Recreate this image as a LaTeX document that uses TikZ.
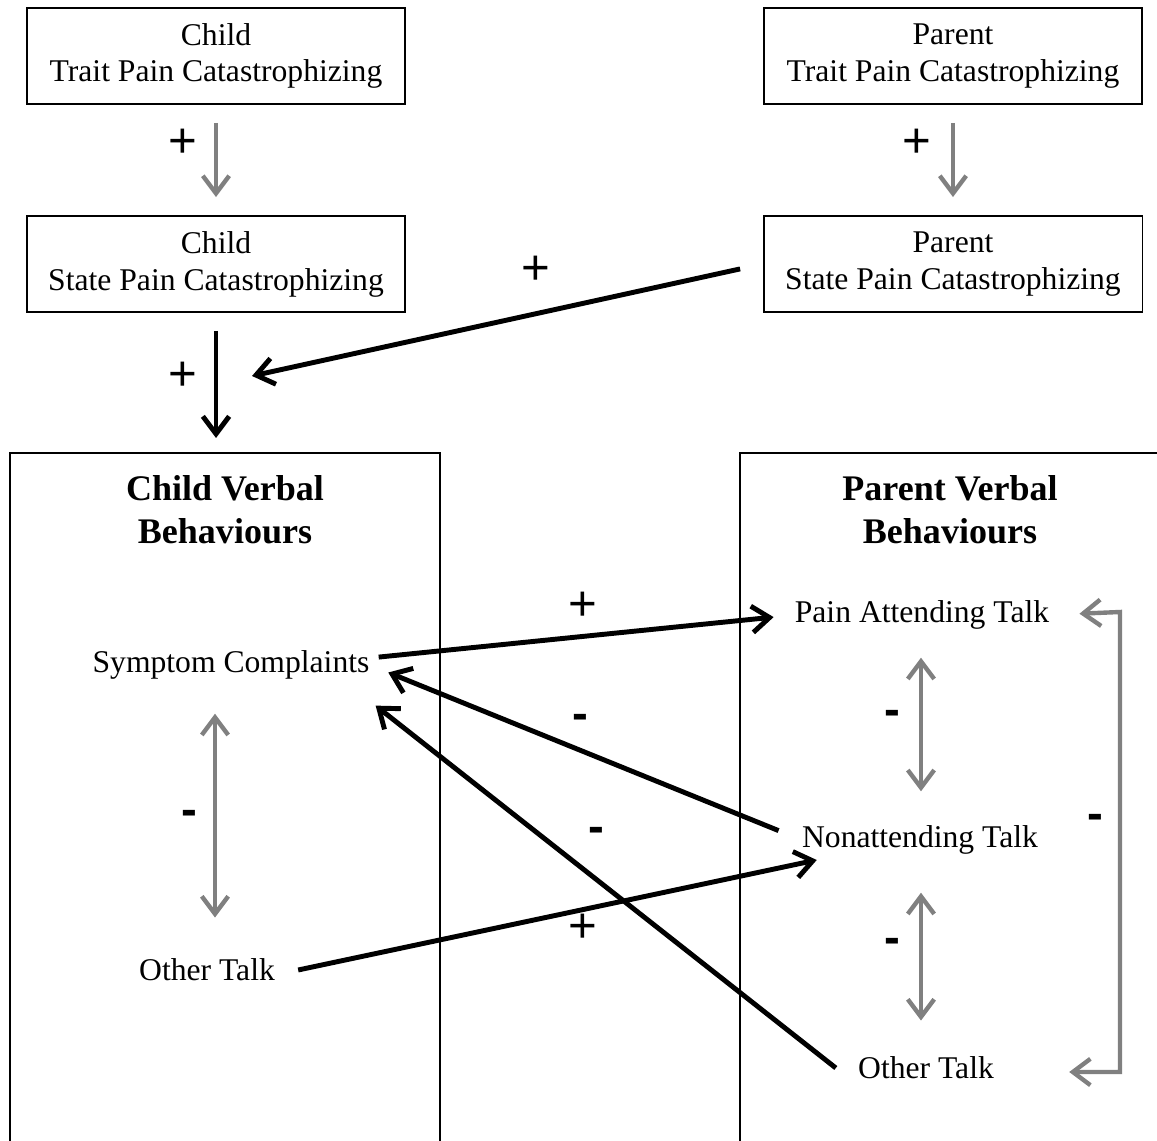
\documentclass[tikz,border=0pt]{standalone}
\usepackage{fontspec}
\setmainfont{Liberation Serif}
\newfontfamily\signfont{Liberation Sans}
\usetikzlibrary{arrows.meta}
\definecolor{arrowgray}{RGB}{128,128,128}

\begin{document}
\begin{tikzpicture}[x=0.02cm,y=-0.02cm,>={Straight Barb[length=10pt,width=15pt]}]
	\useasboundingbox (0,0) rectangle (1157,1141);
	\begin{scope}[
			every node/.style={font=\fontsize{18}{21}\selectfont, align=center},
			catbox/.style={draw, line width=1.1pt, minimum width=7.56cm, minimum height=1.92cm},
			talk/.style={inner sep=0pt},
			headline/.style={font=\fontsize{20.5}{24.5}\selectfont\bfseries},
			plus/.style={font=\signfont\fontsize{28}{28}\selectfont, inner sep=0pt},
			minus/.style={font=\signfont\fontsize{27}{27}\selectfont\bfseries, inner sep=0pt},
			graylink/.style={draw=arrowgray, line width=2.5pt},
			blacklink/.style={draw=black, line width=2.8pt, ->}
		]
		% Catastrophizing boxes
		\node[catbox] (ctrait) at (216,56) {Child\\Trait Pain Catastrophizing};
		\node[catbox] (ptrait) at (953,56) {Parent\\Trait Pain Catastrophizing};
		\node[catbox] (cstate) at (216,264) {Child\\State Pain Catastrophizing};
		\node[catbox, minimum width=7.58cm] (pstate) at (953,264) {Parent\\State Pain Catastrophizing};

		\draw[graylink, ->, shorten <=.36cm, shorten >=.36cm] (ctrait) -- (cstate);
		\draw[graylink, ->, shorten <=.36cm, shorten >=.36cm] (ptrait) -- (pstate);
		\node[plus] (ptc) at (183,143) {+};
		\node[plus] (ptp) at (917,143) {+};

		% Into child verbal behaviours
		\coordinate (cverbtop) at (216,453);
		\coordinate (joint) at (252,376);
		\draw[blacklink, shorten <=.36cm, shorten >=.3cm] (cstate) -- (cverbtop);
		\draw[blacklink, shorten <=.46cm] (pstate.west) -- (joint);
		\node[plus] (psc) at (183,376) {+};
		\node[plus] (psp) at (536,270) {+};

		% Verbal behaviour panels
		\draw[line width=.8pt] (10,1141) |- (440,453) -- (440,1141);
		\draw[line width=.8pt] (740,1141) |- (1157,453);
		\node[headline] (ctitle) at (225,510) {Child Verbal\\Behaviours};
		\node[headline] (ptitle) at (950,510) {Parent Verbal\\Behaviours};

		\node[talk] (sc) at (231,665) {Symptom Complaints};
		\node[talk] (cot) at (207,970) {Other Talk};
		\node[talk] (pat) at (922,615) {Pain Attending Talk};
		\node[talk] (nat) at (920,840) {Nonattending Talk};
		\node[talk] (pot) at (926,1068) {Other Talk};

		% Within child
		\coordinate (cline) at (215,0);
		\draw[graylink, <->, shorten <=.68cm, shorten >=.82cm] (sc.south -| cline) -- (cot.north -| cline);
		\node[minus] (mc) at (189,818) {-};

		% Within parent
		\coordinate (pline) at (921,0);
		\draw[graylink, <->, shorten <=.56cm, shorten >=.68cm] (pat.south -| pline) -- (nat.north -| pline);
		\draw[graylink, <->, shorten <=.76cm, shorten >=.72cm] (nat.south -| pline) -- (pot.north -| pline);
		\node[minus] (mp1) at (892,718) {-};
		\node[minus] (mp2) at (892,946) {-};

		\coordinate (brktop) at (1120,612);
		\coordinate (brkbot) at (1120,1072);
		\draw[graylink, <->, shorten <=.6cm, shorten >=1.5cm] (pat.east) -- (brktop) -- (brkbot) -- (pot.east |- brkbot);
		\node[minus] (mp3) at (1095,822) {-};

		% Between child and parent
		\draw[blacklink, shorten <=.18cm, shorten >=.42cm] ([yshift=.14cm]sc.east) -- (pat.west);
		\draw[blacklink, shorten <=.5cm, shorten >=.4cm] (nat.west) -- (sc.east);
		\draw[blacklink, shorten >=.15cm] ([xshift=-.44cm]pot.west) -- ([yshift=-.72cm]sc.east);
		\draw[blacklink] ([xshift=.46cm]cot.east) -- ([xshift=.3cm,yshift=-.4cm]nat.west);
		\node[plus] (pcp) at (583,606) {+};
		\node[minus] (mnc) at (580,722) {-};
		\node[minus] (moc) at (596,835) {-};
		\node[plus] (pcn) at (583,928) {+};
	\end{scope}
\end{tikzpicture}
\end{document}
